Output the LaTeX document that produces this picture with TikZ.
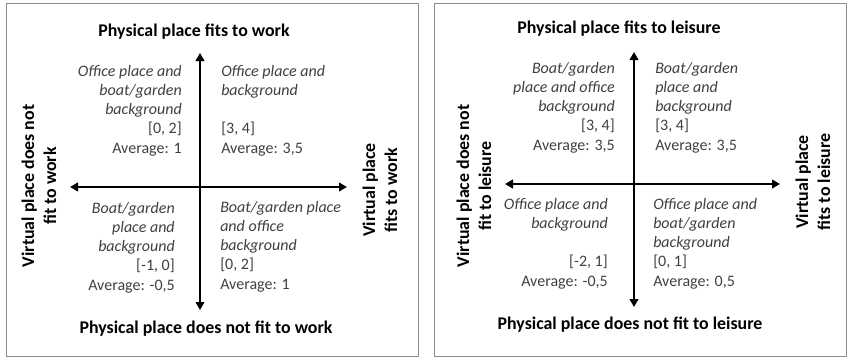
\documentclass[tikz,border=0pt]{standalone}
\usepackage{fontspec}
\setmainfont{Carlito}
\usetikzlibrary{arrows.meta}
\definecolor{quadgray}{HTML}{404040}
\definecolor{framegray}{HTML}{8C8C8C}

\begin{document}
\begin{tikzpicture}[x=0.75pt, y=-0.75pt, font=\fontsize{12}{14.4}\selectfont]

\tikzstyle{every node} = [inner sep=0pt]
\tikzstyle{axis} = [line width=2pt, {Triangle[length=6pt,width=6.5pt]}-{Triangle[length=6pt,width=6.5pt]}]
\tikzstyle{title} = [font=\fontsize{13.4}{16.5}\selectfont\bfseries]
\tikzstyle{side} = [title, rotate=90, align=center]
\tikzstyle{quad} = [text=quadgray]

\useasboundingbox (0,0) rectangle (850,358);

% work
\draw[framegray] (6,3) rectangle (418,356);

\coordinate (wt) at (200,53);
\coordinate (wb) at (200,310);
\coordinate (wl) at (70,187);
\coordinate (wr) at (347,187);
\draw[axis] (wb) -- (wt);
\draw[axis] (wl) -- (wr);

\node[title] (wn) at (194,32) {Physical place fits to work};
\node[title] (ws) at (206,329) {Physical place does not fit to work};
\node[side] (ww) at (39,186) {Virtual place does not\\fit to work};
\node[side] (we) at (380,190) {Virtual place\\fits to work};

\node[quad, align=right, anchor=north east] (w1) at (182,65) {\textit{Office place and}\\\textit{boat/garden}\\\textit{background}\\{[0, 2]}\\Average: 1};
\node[quad, align=left, anchor=north west] (w2) at (221,65) {\textit{Office place and}\\\textit{background}\\~\\{[3, 4]}\\Average: 3,5};
\node[quad, align=right, anchor=north east] (w3) at (175,202) {\textit{Boat/garden}\\\textit{place and}\\\textit{background}\\{[-1, 0]}\\Average: -0,5};
\node[quad, align=left, anchor=north west] (w4) at (220,201) {\textit{Boat/garden place}\\\textit{and office}\\\textit{background}\\{[0, 2]}\\Average: 1};

% leisure
\draw[framegray] (434,3) rectangle (846,356);

\coordinate (lt) at (634,52);
\coordinate (lb) at (634,307);
\coordinate (ll) at (505,184);
\coordinate (lr) at (780,184);
\draw[axis] (lb) -- (lt);
\draw[axis] (ll) -- (lr);

\node[title] (ln) at (619,29) {Physical place fits to leisure};
\node[title] (ls) at (630,325) {Physical place does not fit to leisure};
\node[side] (lw) at (474,186) {Virtual place does not\\fit to leisure};
\node[side] (le) at (813,182) {Virtual place\\fits to leisure};

\node[quad, align=right, anchor=north east] (l1) at (615,62) {\textit{Boat/garden}\\\textit{place and office}\\\textit{background}\\{[3, 4]}\\Average: 3,5};
\node[quad, align=left, anchor=north west] (l2) at (655,62) {\textit{Boat/garden}\\\textit{place and}\\\textit{background}\\{[3, 4]}\\Average: 3,5};
\node[quad, align=right, anchor=north east] (l3) at (608,198) {\textit{Office place and}\\\textit{background}\\~\\{[-2, 1]}\\Average: -0,5};
\node[quad, align=left, anchor=north west] (l4) at (653,198) {\textit{Office place and}\\\textit{boat/garden}\\\textit{background}\\{[0, 1]}\\Average: 0,5};

\end{tikzpicture}
\end{document}
